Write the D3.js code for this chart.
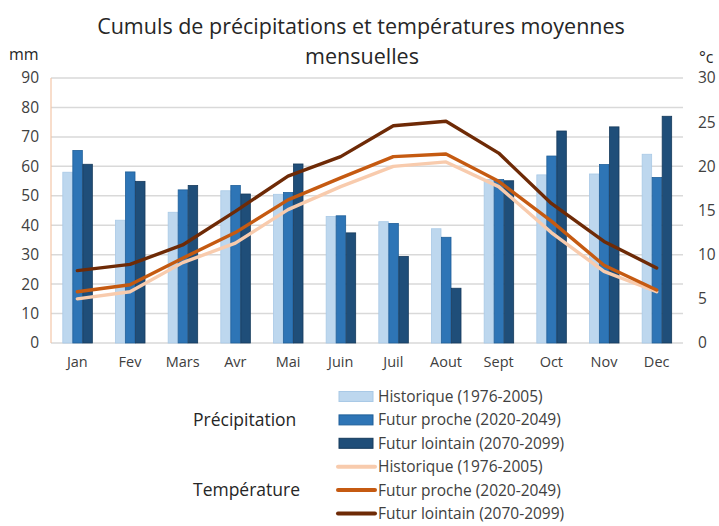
<!DOCTYPE html>
<html>
<head>
<meta charset="utf-8">
<script src="https://cdn.jsdelivr.net/npm/d3@7"></script>
<style>
    body { margin: 0; background: #ffffff; }
    svg { font-family: "Open Sans", "Noto Sans", sans-serif; }
</style>
</head>
<body>
<svg id="chart"></svg>
<script>
const months = ["Jan", "Fev", "Mars", "Avr", "Mai", "Juin", "Juil", "Aout", "Sept", "Oct", "Nov", "Dec"];
const periods = ["Historique (1976-2005)", "Futur proche (2020-2049)", "Futur lointain (2070-2099)"];

// precipitation, mm
const precip_hist = [58.0, 41.7, 44.4, 51.7, 50.5, 43.0, 41.2, 38.8, 55.5, 57.1, 57.4, 64.1];
const precip_proche = [65.4, 58.1, 52.0, 53.5, 51.1, 43.2, 40.6, 35.9, 55.5, 63.5, 60.6, 56.2];
const precip_lointain = [60.7, 54.9, 53.5, 50.6, 60.8, 37.4, 29.4, 18.6, 55.1, 72.0, 73.4, 77.0];

// temperature, °C
const temp_hist = [5.0, 5.8, 9.1, 11.3, 15.1, 17.7, 20.0, 20.5, 17.7, 12.5, 8.1, 5.8];
const temp_proche = [5.8, 6.6, 9.6, 12.5, 16.2, 18.7, 21.1, 21.4, 18.3, 13.8, 8.8, 6.0];
const temp_lointain = [8.2, 8.9, 11.1, 14.9, 18.9, 21.1, 24.6, 25.1, 21.5, 15.8, 11.5, 8.5];

const mm_ticks = [0, 10, 20, 30, 40, 50, 60, 70, 80, 90];
const deg_ticks = [0, 5, 10, 15, 20, 25, 30];

const bar_fill = ["#bdd7ee", "#2e75b6", "#1f4e79"];
const bar_stroke = ["#a9c9e6", "#1f5f99", "#163a5c"];
const line_color = ["#f8cbad", "#c55a11", "#6e2a06"];

function create_chart() {
    let width = 719;
    let height = 526;
    let left = 51, right = 683, top = 78, bottom = 343;

    let svg = d3.select("#chart")
        .attr("width", width)
        .attr("height", height);

    let x = d3.scaleBand()
        .domain(months)
        .range([left, right])
        .paddingInner(0.43)
        .paddingOuter(0.215);

    let xs = d3.scaleBand()
        .domain(d3.range(3))
        .range([0, x.bandwidth()]);

    let y_mm = d3.scaleLinear().domain([0, 90]).range([bottom, top]);
    let y_deg = d3.scaleLinear().domain([0, 30]).range([bottom, top]);

    // gridlines
    svg.append("g")
        .selectAll("line")
        .data(mm_ticks)
        .enter().append("line")
        .attr("x1", left)
        .attr("x2", right)
        .attr("y1", function (d) { return y_mm(d); })
        .attr("y2", function (d) { return y_mm(d); })
        .attr("stroke", "#d9d9d9")
        .attr("stroke-width", 1.5);

    // left axis line
    svg.append("line")
        .attr("x1", left).attr("x2", left)
        .attr("y1", top).attr("y2", bottom)
        .attr("stroke", "#f4c7a8")
        .attr("stroke-width", 1.2);

    // bars
    let series = [precip_hist, precip_proche, precip_lointain];
    let groups = svg.append("g")
        .selectAll("g")
        .data(months)
        .enter().append("g")
        .attr("transform", function (d) { return "translate(" + x(d) + ",0)"; });

    groups.selectAll("rect")
        .data(function (d, i) {
            return series.map(function (s, k) { return {k: k, v: s[i]}; });
        })
        .enter().append("rect")
        .attr("x", function (d) { return xs(d.k) + 0.5; })
        .attr("width", xs.bandwidth() - 0.5)
        .attr("y", function (d) { return y_mm(d.v); })
        .attr("height", function (d) { return bottom - y_mm(d.v); })
        .attr("fill", function (d) { return bar_fill[d.k]; })
        .attr("stroke", function (d) { return bar_stroke[d.k]; })
        .attr("stroke-width", 0.8);

    // temperature lines
    let temps = [temp_hist, temp_proche, temp_lointain];
    let line = d3.line()
        .x(function (d, i) { return x(months[i]) + x.bandwidth() / 2; })
        .y(function (d) { return y_deg(d); });

    svg.append("g")
        .selectAll("path")
        .data(temps)
        .enter().append("path")
        .attr("d", line)
        .attr("fill", "none")
        .attr("stroke", function (d, i) { return line_color[i]; })
        .attr("stroke-width", 3.4)
        .attr("stroke-linejoin", "round")
        .attr("stroke-linecap", "round");

    // axes
    let axis_left = svg.append("g")
        .attr("transform", "translate(" + left + ",0)")
        .call(d3.axisLeft(y_mm).tickValues(mm_ticks).tickSize(0).tickPadding(12));
    let axis_right = svg.append("g")
        .attr("transform", "translate(" + right + ",0)")
        .call(d3.axisRight(y_deg).tickValues(deg_ticks).tickSize(0).tickPadding(15));
    let axis_bottom = svg.append("g")
        .attr("transform", "translate(0," + bottom + ")")
        .call(d3.axisBottom(x).tickSize(0).tickPadding(14));

    [axis_left, axis_right].forEach(function (a) {
        a.select(".domain").remove();
        a.selectAll("text")
            .attr("font-family", "'Open Sans', 'Noto Sans', sans-serif")
            .attr("font-size", 15.5)
            .attr("fill", "#404040");
    });
    axis_bottom.select(".domain").remove();
    axis_bottom.selectAll("text")
        .attr("font-family", "'Open Sans', 'Noto Sans', sans-serif")
        .attr("font-size", 14.5)
        .attr("fill", "#404040");

    // titles
    svg.append("text")
        .attr("x", 361).attr("y", 34)
        .attr("text-anchor", "middle")
        .attr("font-size", 21.5)
        .attr("fill", "#262626")
        .text("Cumuls de précipitations et températures moyennes");
    svg.append("text")
        .attr("x", 362).attr("y", 64)
        .attr("text-anchor", "middle")
        .attr("font-size", 21.5)
        .attr("fill", "#262626")
        .text("mensuelles");

    svg.append("text")
        .attr("x", 9).attr("y", 60)
        .attr("font-size", 16)
        .attr("fill", "#262626")
        .text("mm");
    svg.append("text")
        .attr("x", 699).attr("y", 63)
        .attr("font-size", 16)
        .attr("fill", "#262626")
        .text("°c");

    // legend
    let legend = svg.append("g");
    let row_y = function (i) { return 396.5 + i * 23.4; };

    legend.selectAll("rect")
        .data(d3.range(3))
        .enter().append("rect")
        .attr("x", 339)
        .attr("y", function (i) { return row_y(i) - 5; })
        .attr("width", 34)
        .attr("height", 10)
        .attr("fill", function (i) { return bar_fill[i]; })
        .attr("stroke", function (i) { return bar_stroke[i]; })
        .attr("stroke-width", 1);

    legend.selectAll("line")
        .data(d3.range(3))
        .enter().append("line")
        .attr("x1", 338).attr("x2", 375)
        .attr("y1", function (i) { return row_y(i + 3); })
        .attr("y2", function (i) { return row_y(i + 3); })
        .attr("stroke", function (i) { return line_color[i]; })
        .attr("stroke-width", 4)
        .attr("stroke-linecap", "round");

    legend.selectAll("text.item")
        .data(periods.concat(periods))
        .enter().append("text")
        .attr("class", "item")
        .attr("x", 378)
        .attr("y", function (d, i) { return row_y(i) + 5.5; })
        .attr("font-size", 15.5)
        .attr("fill", "#404040")
        .text(function (d) { return d; });

    legend.append("text")
        .attr("x", 193).attr("y", row_y(1) + 6)
        .attr("font-size", 17.5)
        .attr("fill", "#262626")
        .text("Précipitation");
    legend.append("text")
        .attr("x", 193).attr("y", row_y(4) + 6)
        .attr("font-size", 17.5)
        .attr("fill", "#262626")
        .text("Température");
}

create_chart();
</script>
</body>
</html>
